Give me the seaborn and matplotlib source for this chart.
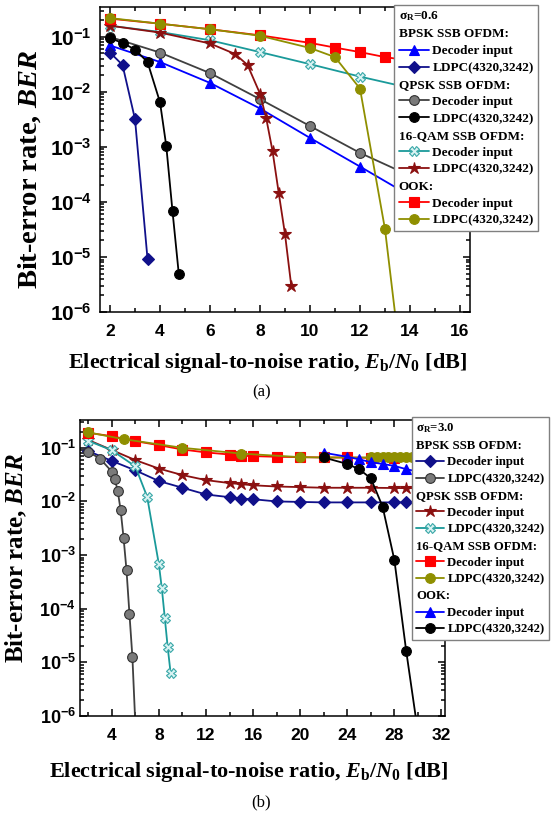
import numpy as np
import matplotlib
matplotlib.use("Agg")
import matplotlib.pyplot as plt
import seaborn as sns
from matplotlib.ticker import MultipleLocator, LogLocator, FuncFormatter, NullFormatter
from matplotlib.lines import Line2D

# ---------------- data: panel (a), sigma_R = 0.6 ----------------
a_bpsk_dec_x = [2, 4, 6, 8, 10, 12, 14, 16]
a_bpsk_dec_y = [0.07, 0.035, 0.0146, 0.005, 0.00146, 0.00044, 0.00013, 0.00004]
a_bpsk_ldpc_x = [2, 2.5, 3, 3.5]
a_bpsk_ldpc_y = [0.052, 0.031, 0.0032, 9.3e-6]
a_qpsk_dec_x = [2, 4, 6, 8, 10, 12, 14, 16]
a_qpsk_dec_y = [0.1, 0.052, 0.022, 0.0074, 0.0024, 0.00078, 0.0003, 0.00012]
a_qpsk_ldpc_x = [2, 2.5, 3, 3.5, 4, 4.25, 4.5, 4.75]
a_qpsk_ldpc_y = [0.095, 0.078, 0.059, 0.035, 0.0065, 0.00105, 6.8e-5, 5e-6]
a_qam_dec_x = [2, 4, 6, 8, 10, 12, 14, 16]
a_qam_dec_y = [0.16, 0.123, 0.087, 0.053, 0.032, 0.019, 0.0118, 0.0074]
a_qam_ldpc_x = [2, 4, 6, 7, 7.5, 8, 8.25, 8.5, 8.75, 9, 9.25]
a_qam_ldpc_y = [0.16, 0.12, 0.076, 0.049, 0.031, 0.0093, 0.0033, 8.5e-4, 1.45e-4, 2.6e-5, 3e-6]
a_ook_dec_x = [2, 4, 6, 8, 10, 11, 12, 13, 14, 15, 16]
a_ook_dec_y = [0.215, 0.174, 0.138, 0.107, 0.078, 0.064, 0.053, 0.043, 0.037, 0.032, 0.028]
a_ook_ldpc_x = [2, 4, 6, 8, 10, 11, 12, 13, 13.5]
a_ook_ldpc_y = [0.22, 0.174, 0.138, 0.105, 0.063, 0.043, 0.0115, 3.2e-5, 4e-7]

# ---------------- data: panel (b), sigma_R = 3.0 ----------------
b_bpsk_dec_x = [2, 4, 6, 8, 10, 12, 14, 15, 16, 18, 20, 22, 24, 26, 28, 29, 30, 32]
b_bpsk_dec_y = [0.087, 0.057, 0.038, 0.024, 0.018, 0.0135, 0.012, 0.0113, 0.011, 0.010,
                0.0098, 0.0096, 0.0096, 0.0096, 0.0096, 0.0096, 0.0095, 0.0095]
b_bpsk_ldpc_x = [2, 3, 4, 4.25, 4.5, 4.75, 5, 5.25, 5.5, 5.75, 6]
b_bpsk_ldpc_y = [0.084, 0.063, 0.036, 0.026, 0.016, 0.0069, 0.0021, 5.2e-4, 8e-5, 1.26e-5, 7e-7]
b_qpsk_dec_x = [2, 4, 6, 8, 10, 12, 14, 15, 16, 18, 20, 22, 24, 26, 28, 29, 30, 32]
b_qpsk_dec_y = [0.14, 0.091, 0.059, 0.041, 0.031, 0.025, 0.022, 0.021, 0.020, 0.019,
                0.0185, 0.018, 0.018, 0.018, 0.0178, 0.0177, 0.0177, 0.0176]
b_qpsk_ldpc_x = [2, 4, 6, 7, 8, 8.25, 8.5, 8.75, 9]
b_qpsk_ldpc_y = [0.135, 0.09, 0.045, 0.0123, 6.7e-4, 2.4e-4, 6.8e-5, 1.9e-5, 6.2e-6]
b_qam_dec_x = [2, 4, 6, 8, 10, 12, 14, 15, 16, 18, 20, 22, 24, 26, 28, 30, 32]
b_qam_dec_y = [0.19, 0.165, 0.133, 0.112, 0.093, 0.082, 0.075, 0.071, 0.07, 0.068,
               0.067, 0.066, 0.066, 0.065, 0.065, 0.064, 0.064]
b_qam_ldpc_x = [2, 5, 10, 15, 20, 22, 26, 26.5, 27, 27.5, 28, 28.5, 29, 29.5, 30, 31, 32]
b_qam_ldpc_y = [0.194, 0.145, 0.1, 0.078, 0.067, 0.066, 0.066, 0.066, 0.066, 0.066,
                0.066, 0.066, 0.066, 0.066, 0.066, 0.066, 0.066]
b_ook_dec_x = [22, 24, 25, 26, 27, 28, 29, 30, 32]
b_ook_dec_y = [0.081, 0.068, 0.061, 0.054, 0.050, 0.046, 0.040, 0.036, 0.030]
b_ook_ldpc_x = [22, 24, 25, 26, 27, 28, 29, 30]
b_ook_ldpc_y = [0.066, 0.050, 0.040, 0.027, 0.008, 8.1e-4, 1.66e-5, 5e-7]

# ---------------- style ----------------
sns.set_theme(style="ticks")
plt.rcParams.update({
    "font.family": ["Liberation Serif", "DejaVu Serif"],
    "font.weight": "bold",
    "mathtext.fontset": "custom",
    "mathtext.rm": "Liberation Serif:bold",
    "mathtext.it": "Liberation Serif:italic:bold",
    "mathtext.bf": "Liberation Serif:bold",
    "mathtext.sf": "Liberation Sans:bold",
    "axes.edgecolor": "black",
    "axes.linewidth": 1.1,
    "text.color": "black",
    "axes.labelcolor": "black",
    "xtick.color": "black",
    "ytick.color": "black",
})

BLUE = "#0000ff"
NAVY = "#10108a"
GRAY = "#7a7a7a"
GRAYLINE = "#404040"
BLACK = "#000000"
TEAL = "#1a9a9a"
DRED = "#8b1010"
RED = "#ff0000"
OLIVE = "#8f8f00"

STY = {
    "tri_blue": dict(color=BLUE, marker="^", mfc=BLUE, mec=BLUE),
    "dia_navy": dict(color=NAVY, marker="D", mfc=NAVY, mec=NAVY, ms=6),
    "sph_gray": dict(color=GRAYLINE, marker="o", mfc=GRAY, mec="#303030"),
    "cir_black": dict(color=BLACK, marker="o", mfc=BLACK, mec=BLACK),
    "x_teal": dict(color=TEAL, marker="X", mfc="#d8f2f2", mec="#3aa8a8"),
    "star_dred": dict(color=DRED, marker="*", mfc=DRED, mec=DRED, ms=9),
    "sq_red": dict(color=RED, marker="s", mfc=RED, mec=RED),
    "cir_olive": dict(color=OLIVE, marker="o", mfc=OLIVE, mec=OLIVE),
}


def draw(ax, x, y, key):
    s = dict(STY[key])
    ms = s.pop("ms", 7)
    sns.lineplot(x=x, y=y, ax=ax, color=s["color"], marker=s["marker"],
                 markersize=ms, markerfacecolor=s["mfc"], markeredgecolor=s["mec"],
                 markeredgewidth=0.8, linewidth=1.3, errorbar=None, legend=False)
    return ax.lines[-1]


fig = plt.figure(figsize=(5.52, 8.16), dpi=100)
ax1 = fig.add_axes([100 / 552, 1 - 312 / 816, 370 / 552, 305 / 816])
ax2 = fig.add_axes([80 / 552, 1 - 716 / 816, 365 / 552, 296 / 816])

for ax in (ax1, ax2):
    ax.set_yscale("log")

# panel (a)
h = {}
h["a1"] = draw(ax1, a_bpsk_dec_x, a_bpsk_dec_y, "tri_blue")
h["a2"] = draw(ax1, a_bpsk_ldpc_x, a_bpsk_ldpc_y, "dia_navy")
h["a3"] = draw(ax1, a_qpsk_dec_x, a_qpsk_dec_y, "sph_gray")
h["a4"] = draw(ax1, a_qpsk_ldpc_x, a_qpsk_ldpc_y, "cir_black")
h["a5"] = draw(ax1, a_qam_dec_x, a_qam_dec_y, "x_teal")
h["a6"] = draw(ax1, a_qam_ldpc_x, a_qam_ldpc_y, "star_dred")
h["a7"] = draw(ax1, a_ook_dec_x, a_ook_dec_y, "sq_red")
h["a8"] = draw(ax1, a_ook_ldpc_x, a_ook_ldpc_y, "cir_olive")

# panel (b)
h["b1"] = draw(ax2, b_bpsk_dec_x, b_bpsk_dec_y, "dia_navy")
h["b2"] = draw(ax2, b_bpsk_ldpc_x, b_bpsk_ldpc_y, "sph_gray")
h["b3"] = draw(ax2, b_qpsk_dec_x, b_qpsk_dec_y, "star_dred")
h["b4"] = draw(ax2, b_qpsk_ldpc_x, b_qpsk_ldpc_y, "x_teal")
h["b5"] = draw(ax2, b_qam_dec_x, b_qam_dec_y, "sq_red")
h["b6"] = draw(ax2, b_qam_ldpc_x, b_qam_ldpc_y, "cir_olive")
h["b7"] = draw(ax2, b_ook_dec_x, b_ook_dec_y, "tri_blue")
h["b8"] = draw(ax2, b_ook_ldpc_x, b_ook_ldpc_y, "cir_black")

ax1.set_xlim(1.6, 16.4)
ax1.set_ylim(1e-6, 0.35)
ax2.set_xlim(1.3, 32.3)
ax2.set_ylim(1e-6, 0.33)

ax1.xaxis.set_major_locator(MultipleLocator(2))
ax1.xaxis.set_minor_locator(MultipleLocator(1))
ax2.xaxis.set_major_locator(MultipleLocator(4))
ax2.xaxis.set_minor_locator(MultipleLocator(2))

ytick_fmt = FuncFormatter(lambda v, p: r"$\mathsf{10^{%d}}$" % int(round(np.log10(v))))
for ax, ysz, ypad, xsz in ((ax1, 15, 6, 12.5), (ax2, 13, 3, 12.5)):
    ax.yaxis.set_major_locator(LogLocator(base=10, numticks=10))
    ax.yaxis.set_minor_locator(LogLocator(base=10, subs=np.arange(2, 10), numticks=20))
    ax.yaxis.set_minor_formatter(NullFormatter())
    ax.yaxis.set_major_formatter(ytick_fmt)
    ax.tick_params(which="both", direction="in", top=True, right=True, width=1.1)
    ax.tick_params(which="major", length=5)
    ax.tick_params(which="minor", length=3)
    ax.tick_params(axis="y", which="major", labelsize=ysz, pad=ypad)
    ax.tick_params(axis="x", which="major", labelsize=xsz, pad=9)
    for lab in ax.get_xticklabels():
        lab.set_fontfamily("Liberation Sans")
        lab.set_fontweight("bold")

XLABEL = r"Electrical signal-to-noise ratio, $E_\mathrm{b}/N_\mathrm{0}$ [dB]"
YLABEL = r"Bit-error rate, $BER$"

ax1.set_xlabel(XLABEL, fontsize=16, fontweight="bold", va="center", ha="center")
ax1.xaxis.set_label_coords((268 - 100) / 370, -(363 - 312) / 305)
ax1.set_ylabel(YLABEL, fontsize=20.5, fontweight="bold", va="center", ha="center")
ax1.yaxis.set_label_coords((30 - 100) / 370, 1 - (169 - 7) / 305)

ax2.set_xlabel(XLABEL, fontsize=16, fontweight="bold", va="center", ha="center")
ax2.xaxis.set_label_coords((249 - 80) / 365, -(772 - 716) / 296)
ax2.set_ylabel(YLABEL, fontsize=18, fontweight="bold", va="center", ha="center")
ax2.yaxis.set_label_coords((16 - 80) / 365, 1 - (558 - 420) / 296)

fig.text(262 / 552, 1 - 392 / 816, "(a)", fontsize=12, fontweight="normal",
         ha="center", va="center")
fig.text(261 / 552, 1 - 802 / 816, "(b)", fontsize=12, fontweight="normal",
         ha="center", va="center")


def make_legend(ax, title, groups, anchor, size, hlen, lspace):
    handles = [Line2D([], [], linestyle="none")]
    labels = [title]
    headers = {0}
    for header, items in groups:
        headers.add(len(handles))
        handles.append(Line2D([], [], linestyle="none"))
        labels.append(header)
        for hh, ll in items:
            handles.append(hh)
            labels.append(ll)
    leg = ax.legend(handles, labels, loc="upper left", bbox_to_anchor=anchor,
                    bbox_transform=fig.transFigure, frameon=True, fancybox=False,
                    framealpha=1, edgecolor="#808080", facecolor="white",
                    prop={"family": "Liberation Serif", "weight": "bold", "size": size},
                    handlelength=hlen, handletextpad=0.25, labelspacing=lspace,
                    borderpad=0.35, numpoints=1, borderaxespad=0)
    leg.get_frame().set_linewidth(1.0)
    rows = leg._legend_handle_box.get_children()[0].get_children()
    for i, hp in enumerate(rows):
        if i in headers:
            hp.sep = 0
            hp.get_children()[0].width = 0
    return leg


DEC = "Decoder input"
LDPC = "LDPC(4320,3242)"
make_legend(ax1, "σ$_\\mathrm{R}$=0.6",
            [("BPSK SSB OFDM:", [(h["a1"], DEC), (h["a2"], LDPC)]),
             ("QPSK SSB OFDM:", [(h["a3"], DEC), (h["a4"], LDPC)]),
             ("16-QAM SSB OFDM:", [(h["a5"], DEC), (h["a6"], LDPC)]),
             ("OOK:", [(h["a7"], DEC), (h["a8"], LDPC)])],
            (394 / 552, 1 - 5 / 816), 9.5, 2.3, 0.355)
make_legend(ax2, "σ$_\\mathrm{R}$=3.0",
            [("BPSK SSB OFDM:", [(h["b1"], DEC), (h["b2"], LDPC)]),
             ("QPSK SSB OFDM:", [(h["b3"], DEC), (h["b4"], LDPC)]),
             ("16-QAM SSB OFDM:", [(h["b5"], DEC), (h["b6"], LDPC)]),
             ("OOK:", [(h["b7"], DEC), (h["b8"], LDPC)])],
            (411.7 / 552, 1 - 416.7 / 816), 9.2, 2.2, 0.37)

fig.savefig("out.png", dpi=100)
